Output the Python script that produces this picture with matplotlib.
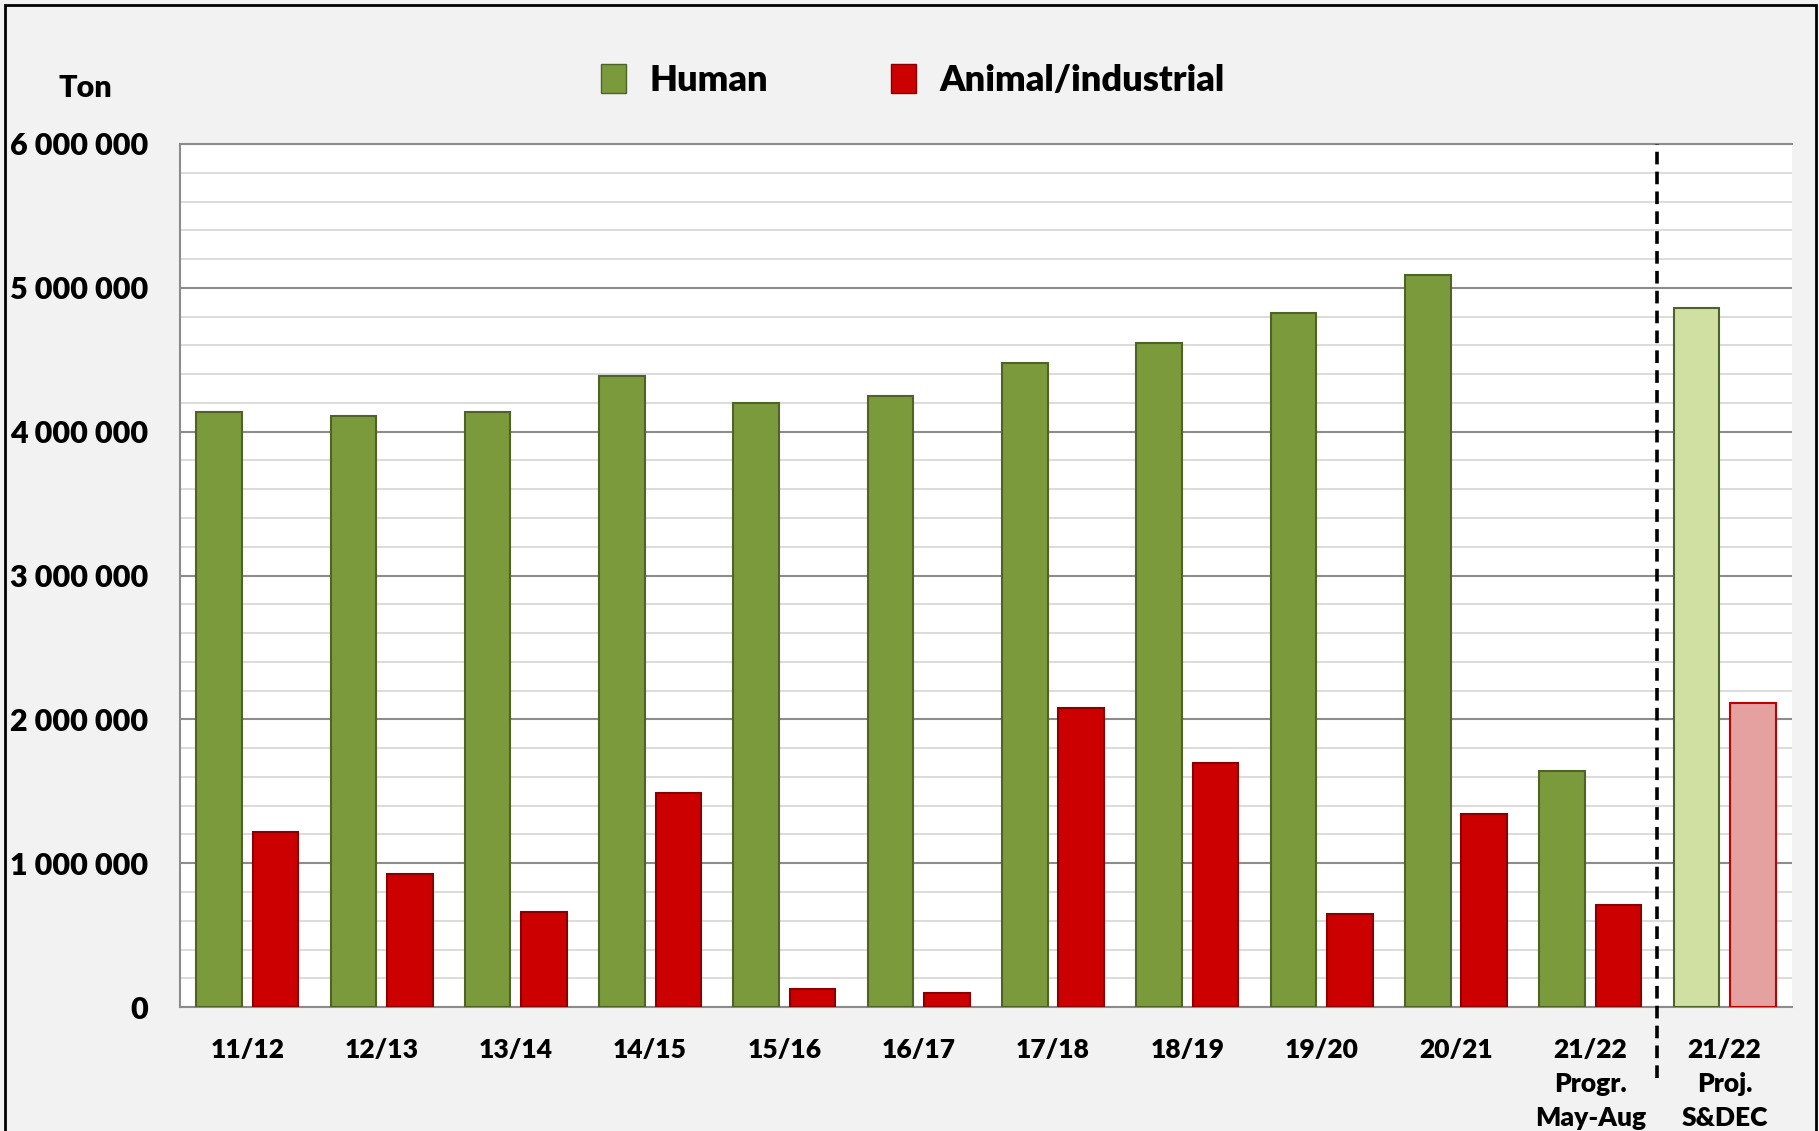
import numpy as np
import matplotlib
matplotlib.use("Agg")
import matplotlib.pyplot as plt
import matplotlib.ticker as ticker
from matplotlib.patches import Rectangle, Patch

# ── data ─────────────────────────────────────────────────────────────────────
SEASONS = ["11/12", "12/13", "13/14", "14/15", "15/16", "16/17", "17/18",
           "18/19", "19/20", "20/21", "21/22\nProgr.\nMay-Aug", "21/22\nProj.\nS&DEC"]
HUMAN = [4135000, 4110000, 4140000, 4385000, 4200000, 4250000, 4478000,
         4614000, 4822000, 5092000, 1642000, 4857000]
ANIMAL = [1218000, 923000, 662000, 1490000, 128000, 95000, 2082000,
          1700000, 650000, 1340000, 712000, 2116000]

GREEN, GREEN_EDGE = "#7a9a3c", "#4f6228"
RED, RED_EDGE = "#cc0000", "#8a0000"
GREEN_PROJ, RED_PROJ = "#cfe0a2", "#e5a0a0"
WEIGHT = "heavy"

plt.rcParams["font.family"] = ["Lato", "DejaVu Sans"]

fig = plt.figure(figsize=(18.19, 11.31), dpi=100, facecolor="#f2f2f2")
ax = fig.add_axes([0.099, 0.1096, 0.886, 0.7631])
ax.set_facecolor("white")

x = np.arange(len(SEASONS))
w = 0.34
off = 0.21
n_proj = 1
g_cols = [GREEN] * (len(x) - n_proj) + [GREEN_PROJ] * n_proj
r_cols = [RED] * (len(x) - n_proj) + [RED_PROJ] * n_proj
r_edges = [RED_EDGE] * (len(x) - n_proj) + ["#c00000"] * n_proj

ax.bar(x - off, HUMAN, width=w, color=g_cols, edgecolor=GREEN_EDGE, lw=1.5, zorder=3)
ax.bar(x + off, ANIMAL, width=w, color=r_cols, edgecolor=r_edges, lw=1.5, zorder=3)

# grid
ax.set_ylim(0, 6000000)
ax.set_xlim(-0.5, len(x) - 0.5)
ax.yaxis.set_major_locator(ticker.MultipleLocator(1000000))
ax.yaxis.set_minor_locator(ticker.MultipleLocator(200000))
ax.grid(which="minor", axis="y", color="#d9d9d9", lw=1.3, zorder=0)
ax.grid(which="major", axis="y", color="#8c8c8c", lw=1.5, zorder=1)
ax.set_axisbelow(True)

ax.spines["right"].set_visible(False)
for s in ("left", "bottom", "top"):
    ax.spines[s].set_color("#8c8c8c")
    ax.spines[s].set_linewidth(1.5)

ax.yaxis.set_major_formatter(ticker.FuncFormatter(
    lambda v, p: f"{int(v):,}".replace(",", " ")))
ax.tick_params(axis="y", which="both", length=0, pad=23, labelsize=22)
ax.tick_params(axis="x", length=0, pad=22, labelsize=19)
ax.set_xticks(x)
ax.set_xticklabels(SEASONS, linespacing=1.5)
for lab in ax.get_yticklabels() + ax.get_xticklabels():
    lab.set_fontweight(WEIGHT)

# divider between progress and projection
ax.axvline(len(x) - 1.5, ymin=-0.082, ymax=1.0, color="black", lw=2.6,
           ls=(0, (3.5, 2)), clip_on=False, zorder=5)

fig.text(0.047, 0.922, "Ton", fontsize=22, fontweight=WEIGHT, ha="center", va="center")

handles = [Patch(facecolor=GREEN, edgecolor=GREEN_EDGE, label="Human"),
           Patch(facecolor=RED, edgecolor=RED_EDGE, label="Animal/industrial")]
fig.legend(handles=handles, loc="center", bbox_to_anchor=(0.502, 0.929), ncol=2,
           frameon=False, prop={"size": 26, "weight": WEIGHT},
           handlelength=0.7, handleheight=0.85, handletextpad=0.65, columnspacing=3.4)

# outer frame
fig.patches.append(Rectangle((5 / 1819, -0.05), 1811 / 1819, 1.05 - 5 / 1131,
                             transform=fig.transFigure, fill=False,
                             edgecolor="black", lw=2))

fig.savefig("out.png", dpi=100, facecolor=fig.get_facecolor())
